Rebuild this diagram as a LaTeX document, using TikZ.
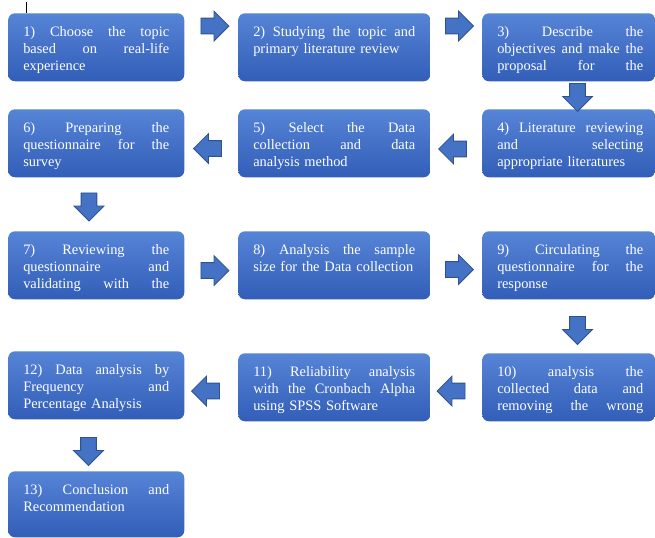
\documentclass[tikz,border=0pt]{standalone}
\usepackage{fontspec}
\setmainfont{Liberation Serif}
\usetikzlibrary{shapes.arrows}

\definecolor{boxtop}{RGB}{86,132,214}
\definecolor{boxbottom}{RGB}{50,94,184}
\definecolor{arrowfill}{RGB}{68,114,196}
\definecolor{arrowline}{RGB}{47,82,143}

\tikzset{
  stagebox/.style={anchor=north west, rounded corners=5pt, top color=boxtop, bottom color=boxbottom, inner sep=0pt},
  stagetext/.style={anchor=north west, inner sep=0pt, text=white, align=left, font=\fontsize{10.8}{12.75}\selectfont},
  flowarrow/.style={single arrow, draw=arrowline, fill=arrowfill, line width=0.6pt, minimum height=21pt, inner xsep=2pt, inner ysep=5.6pt, single arrow head extend=5.25pt}
}
\newcommand{\jline}[1]{\makebox[\hsize][s]{\spaceskip=0pt\xspaceskip=0pt\relax #1}\par}

\begin{document}
\begin{tikzpicture}[x=0.75pt,y=-0.75pt]
\useasboundingbox (0,0) rectangle (655,537);

\node[stagebox, minimum width=132pt, minimum height=51pt] (s1) at (8,13) {};
\node[stagebox, minimum width=144pt, minimum height=51pt] (s2) at (238,13) {};
\node[stagebox, minimum width=129.75pt, minimum height=51pt] (s3) at (482,13) {};
\node[stagebox, minimum width=129.75pt, minimum height=51pt] (s4) at (482,109) {};
\node[stagebox, minimum width=144pt, minimum height=51pt] (s5) at (238,109) {};
\node[stagebox, minimum width=132pt, minimum height=51pt] (s6) at (8,109) {};
\node[stagebox, minimum width=132pt, minimum height=51pt] (s7) at (8,231) {};
\node[stagebox, minimum width=144pt, minimum height=51pt] (s8) at (238,231) {};
\node[stagebox, minimum width=129.75pt, minimum height=51pt] (s9) at (482,231) {};
\node[stagebox, minimum width=129.75pt, minimum height=51pt] (s10) at (482,353) {};
\node[stagebox, minimum width=144pt, minimum height=51pt] (s11) at (238,353) {};
\node[stagebox, minimum width=132pt, minimum height=51pt] (s12) at (8,351) {};
\node[stagebox, minimum width=132pt, minimum height=49.5pt] (s13) at (8,471) {};

\node[stagetext, text width=109.5pt] (t1) at ([shift={(15,11)}]s1.north west) {\jline{\strut 1) Choose the topic}\jline{based on real-life}experience};
\node[stagetext, text width=121.5pt] (t2) at ([shift={(15,11)}]s2.north west) {\jline{\strut 2) Studying the topic and}primary literature review};
\node[stagetext, text width=109.5pt] (t3) at ([shift={(15,11)}]s3.north west) {\jline{\strut 3) Describe the}\jline{objectives and make the}\jline{proposal for the}};
\node[stagetext, text width=109.5pt] (t4) at ([shift={(15,11)}]s4.north west) {\jline{\strut 4) Literature reviewing}\jline{and selecting}appropriate literatures};
\node[stagetext, text width=121.5pt] (t5) at ([shift={(15,11)}]s5.north west) {\jline{\strut 5) Select the Data}\jline{collection and data}analysis method};
\node[stagetext, text width=109.5pt] (t6) at ([shift={(15,11)}]s6.north west) {\jline{\strut 6) Preparing the}\jline{questionnaire for the}survey};
\node[stagetext, text width=109.5pt] (t7) at ([shift={(15,11)}]s7.north west) {\jline{\strut 7) Reviewing the}\jline{questionnaire and}\jline{validating with the}};
\node[stagetext, text width=121.5pt] (t8) at ([shift={(15,11)}]s8.north west) {\jline{\strut 8) Analysis the sample}size for the Data collection};
\node[stagetext, text width=109.5pt] (t9) at ([shift={(15,11)}]s9.north west) {\jline{\strut 9) Circulating the}\jline{questionnaire for the}response};
\node[stagetext, text width=109.5pt] (t10) at ([shift={(15,11)}]s10.north west) {\jline{\strut 10) analysis the}\jline{collected data and}\jline{removing the wrong}};
\node[stagetext, text width=121.5pt] (t11) at ([shift={(15,11)}]s11.north west) {\jline{\strut 11) Reliability analysis}\jline{with the Cronbach Alpha}using SPSS Software};
\node[stagetext, text width=109.5pt] (t12) at ([shift={(15,11)}]s12.north west) {\jline{\strut 12) Data analysis by}\jline{Frequency and}Percentage Analysis};
\node[stagetext, text width=109.5pt] (t13) at ([shift={(15,11)}]s13.north west) {\jline{\strut 13) Conclusion and}Recommendation};

\node[flowarrow] (a12) at (211,26) {};
\node[flowarrow] (a23) at (455.5,26) {};
\node[flowarrow, rotate=-90] (a34) at (577.5,93.5) {};
\node[flowarrow, rotate=180] (a45) at (456.5,149) {};
\node[flowarrow, rotate=180] (a56) at (211.5,148.5) {};
\node[flowarrow, rotate=-90] (a67) at (89,203) {};
\node[flowarrow] (a78) at (211,270.5) {};
\node[flowarrow] (a89) at (455.5,269.5) {};
\node[flowarrow, rotate=-90] (a910) at (577.5,326.5) {};
\node[flowarrow, rotate=180] (a1011) at (455,391) {};
\node[flowarrow, rotate=180] (a1112) at (209.5,391) {};
\node[flowarrow, rotate=-90] (a1213) at (88.5,447.5) {};

\coordinate (tick) at (26,2);
\draw[line width=0.5pt] (tick) -- (tick |- s1.north);

\end{tikzpicture}
\end{document}
